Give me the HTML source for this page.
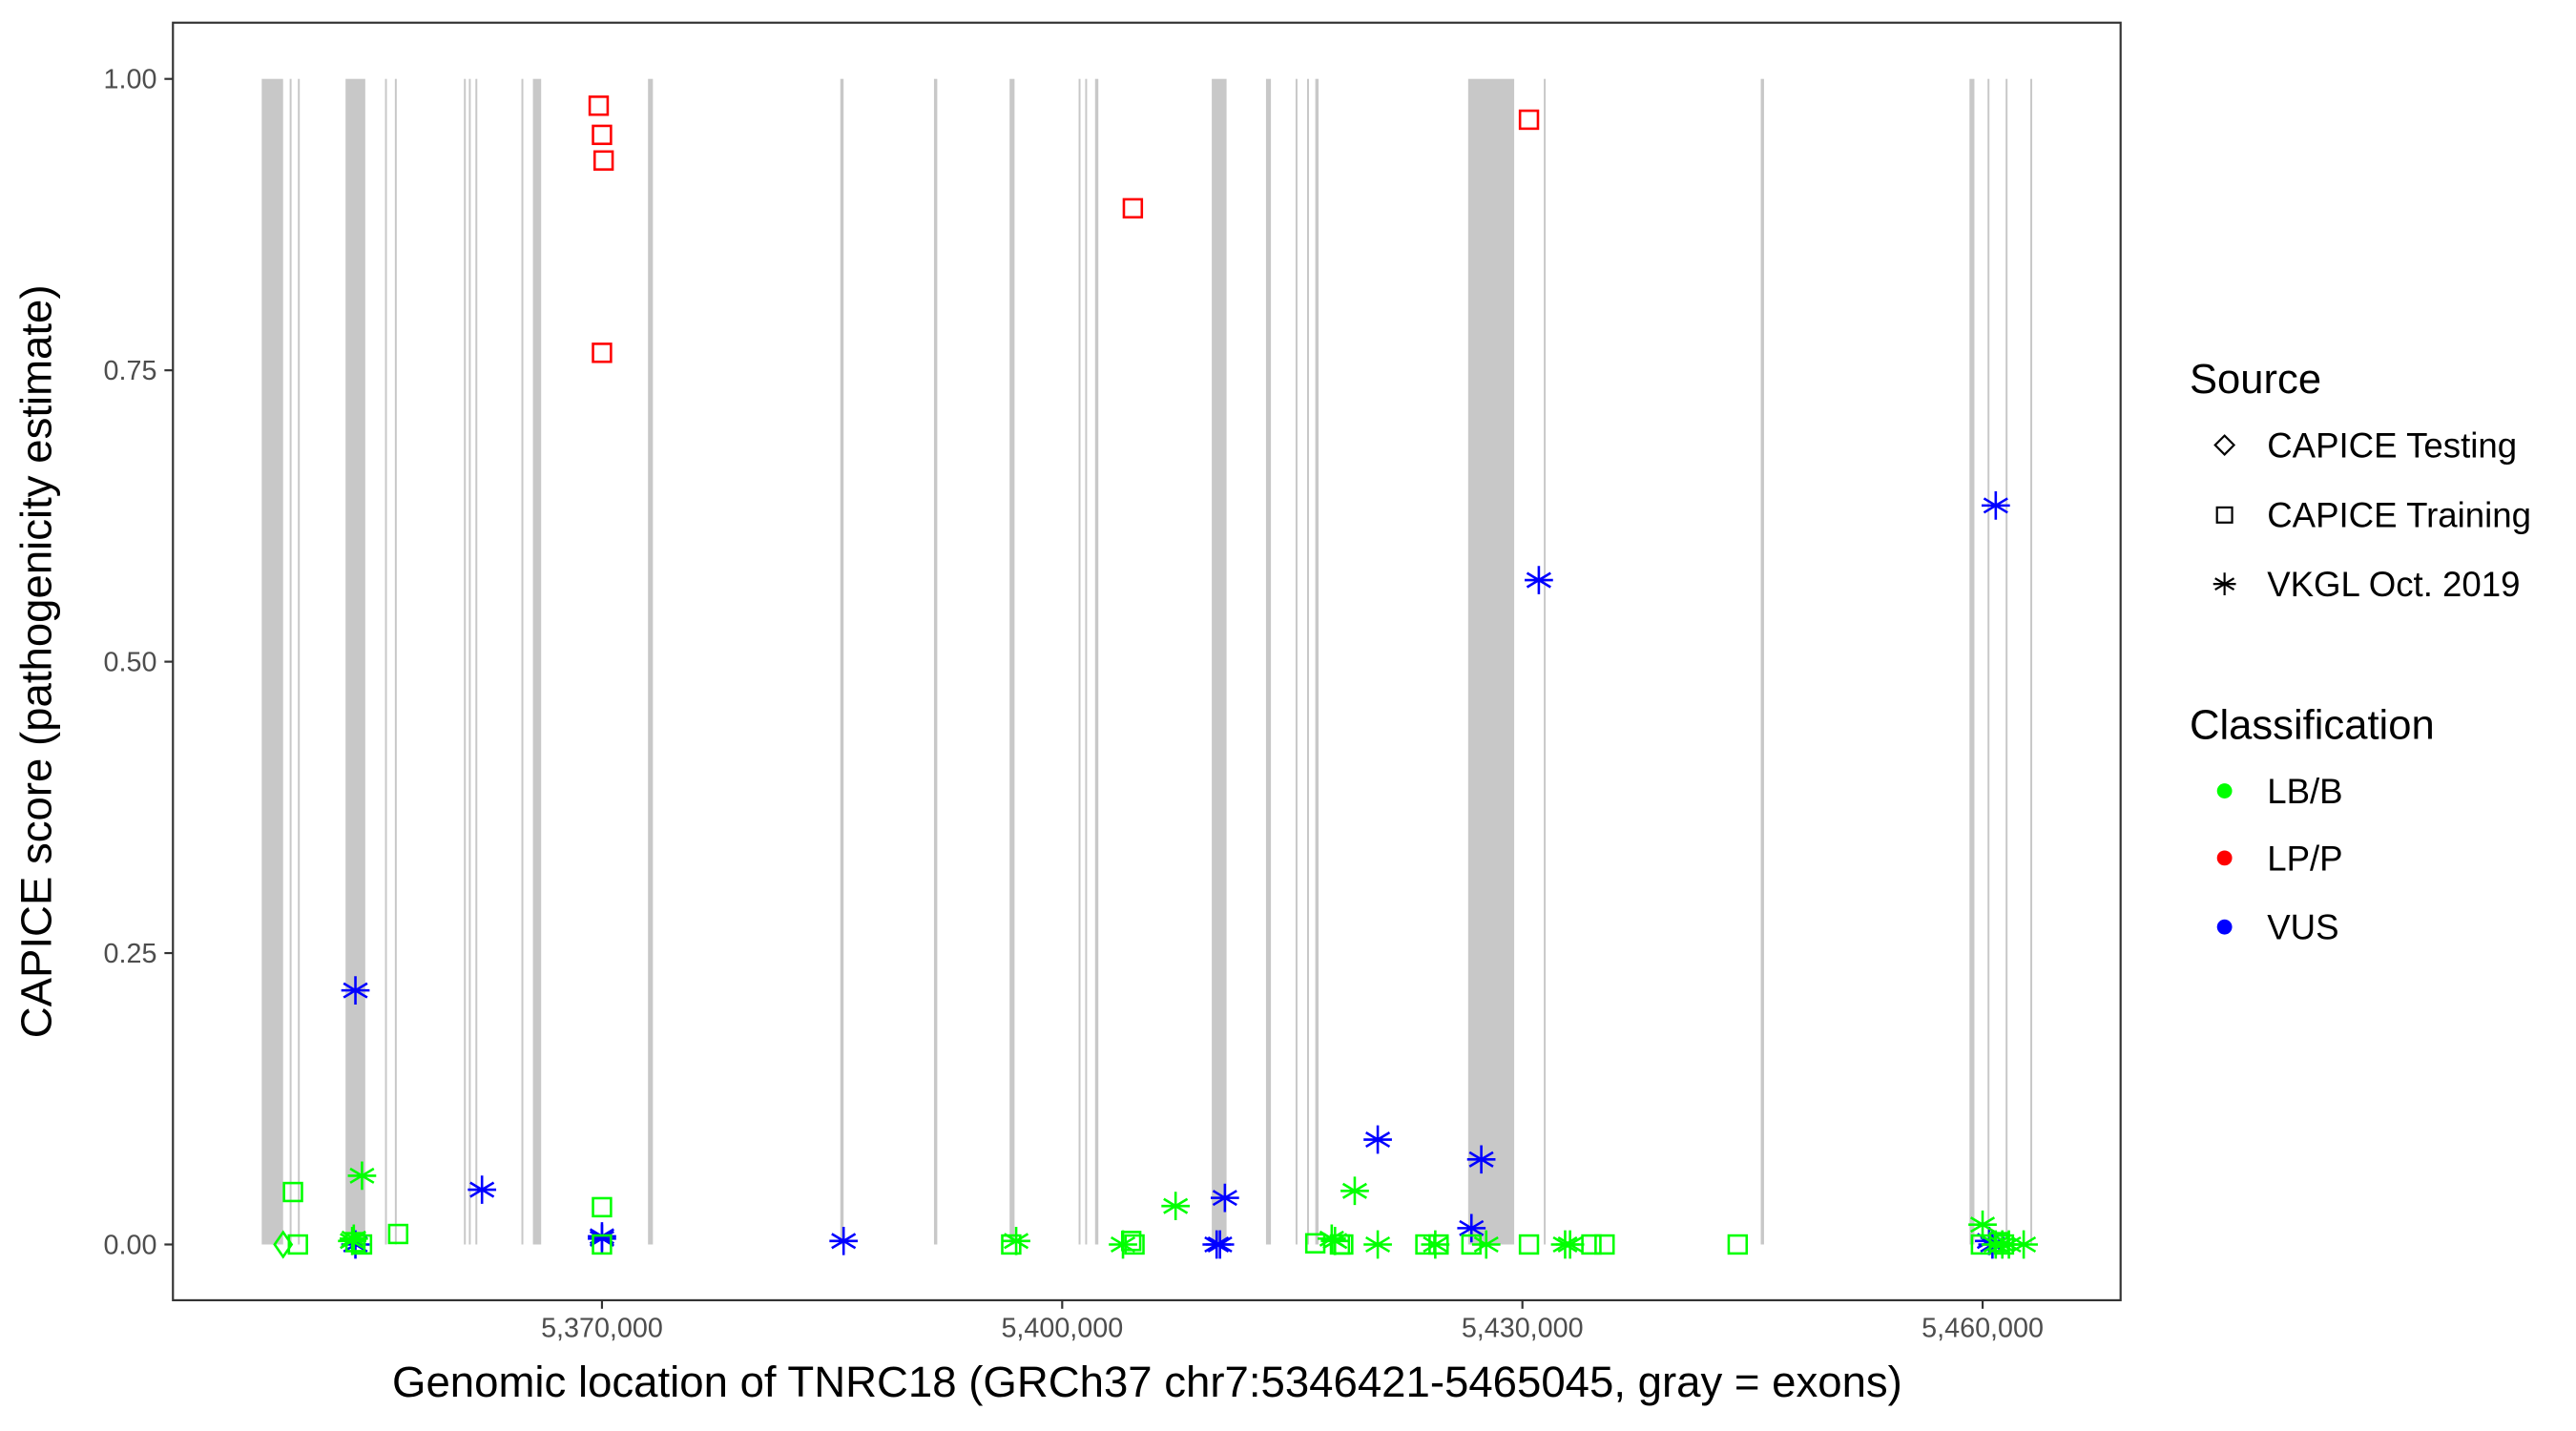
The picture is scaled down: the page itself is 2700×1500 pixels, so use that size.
<!DOCTYPE html>
<html><head><meta charset="utf-8"><style>
html,body{margin:0;padding:0;background:#fff;}
svg{display:block;font-family:"Liberation Sans",Arial,sans-serif;}
</style></head><body>
<svg id="chart" width="2700" height="1500" viewBox="0 0 2700 1500" xmlns="http://www.w3.org/2000/svg">
<rect x="0" y="0" width="2700" height="1500" fill="#fff"/>
<g transform="scale(0.9905)">
<g id="exons"></g>
<g id="points"></g>
<rect x="183" y="24" width="2061" height="1352" fill="none" stroke="#333" stroke-width="2.2"/>
<g id="yaxis"></g>
<g id="xaxis"></g>
<text x="1214" y="1478" font-size="46" text-anchor="middle" fill="#000">Genomic location of TNRC18 (GRCh37 chr7:5346421-5465045, gray = exons)</text>
<text transform="translate(54,700) rotate(-90)" font-size="46" text-anchor="middle" fill="#000">CAPICE score (pathogenicity estimate)</text>
<g>
<text x="2317" y="416" font-size="44" fill="#000">Source</text>
<g>
<path d="M2354 461 L2364 471 L2354 481 L2344 471 Z" fill="none" stroke="#000" stroke-width="2.2"/>
<text x="2399" y="484" font-size="37" fill="#000">CAPICE Testing</text></g>
<g>
<rect x="2346" y="537" width="16" height="16" fill="none" stroke="#000" stroke-width="2.2"/>
<text x="2399" y="558" font-size="37" fill="#000">CAPICE Training</text></g>
<g>
<path d="M2354 606 V630 M2344 612 L2364 624 M2344 624 L2364 612 M2342 618 H2366" stroke="#000" stroke-width="2.2"/>
<text x="2399" y="631" font-size="37" fill="#000">VKGL Oct. 2019</text></g>
<text x="2317" y="782" font-size="44" fill="#000">Classification</text>
<g><circle cx="2354" cy="837" r="8" fill="#00ff00"/><text x="2399" y="850" font-size="37" fill="#000">LB/B</text></g>
<g><circle cx="2354" cy="908" r="8" fill="#ff0000"/><text x="2399" y="921" font-size="37" fill="#000">LP/P</text></g>
<g><circle cx="2354" cy="981" r="8" fill="#0000ff"/><text x="2399" y="994" font-size="37" fill="#000">VUS</text></g>
</g>
</g>
</svg>
<script>
const exonStarts=[5347821,5349643,5350178,5353286,5355857,5356500,5361000,5361322,5361750,5364750,5365500,5373000,5385536,5391643,5396572,5401072,5401500,5402143,5409750,5413286,5415214,5415964,5416500,5426464,5431393,5445536,5459143,5460321,5461500,5463107];
const exonEnds=[5349214,5349750,5350285,5354571,5355964,5356607,5361107,5361429,5361857,5364857,5366036,5373321,5385750,5391857,5396893,5401179,5401607,5402357,5410714,5413607,5415321,5416071,5416714,5429464,5431500,5445750,5459464,5460428,5461607,5463214];
const pointPos=[5369786,5370000,5370107,5370000,5404606,5430427,
5353929,5362179,5370000,5370000,5353929,5385750,5410070,5410284,5410606,5420570,5426677,5427320,5431070,5460855,5460640,5460426,
5354358,5353715,5353822,5396999,5403963,5407392,5417570,5417784,5419070,5420570,5424320,5427641,5432784,5433106,5459997,5460855,5461712,5462676,5461283,
5349858,5350179,5353929,5354358,5356715,5370000,5370000,5396678,5404499,5404713,5416499,5418106,5418320,5423677,5424534,5426677,5430427,5434498,5435355,5444034,5459890,5461069,5461390,
5349215];
const pointScore=[0.977,0.952,0.930,0.765,0.889,0.965,
0.218,0.047,0.005,0.007,0.0,0.003,0.0,0.0,0.040,0.090,0.014,0.073,0.570,0.634,0.0,0.003,
0.059,0.003,0.005,0.003,0.0,0.033,0.005,0.003,0.046,0.0,0.0,0.0,0.0,0.0,0.017,0.0,0.0,0.0,0.0,
0.045,0.0,0.002,0.0,0.009,0.032,0.0,0.0,0.003,0.0,0.001,0.0,0.0,0.0,0.0,0.0,0.0,0.0,0.0,0.0,0.0,0.002,0.0,
0.0];
const pointClass=["LP/P","LP/P","LP/P","LP/P","LP/P","LP/P",
"VUS","VUS","VUS","VUS","VUS","VUS","VUS","VUS","VUS","VUS","VUS","VUS","VUS","VUS","VUS","VUS",
"LB/B","LB/B","LB/B","LB/B","LB/B","LB/B","LB/B","LB/B","LB/B","LB/B","LB/B","LB/B","LB/B","LB/B","LB/B","LB/B","LB/B","LB/B","LB/B",
"LB/B","LB/B","LB/B","LB/B","LB/B","LB/B","LB/B","LB/B","LB/B","LB/B","LB/B","LB/B","LB/B","LB/B","LB/B","LB/B","LB/B","LB/B","LB/B","LB/B","LB/B","LB/B","LB/B",
"LB/B"];
const pointSource=["Training","Training","Training","Training","Training","Training",
"VKGL","VKGL","VKGL","VKGL","VKGL","VKGL","VKGL","VKGL","VKGL","VKGL","VKGL","VKGL","VKGL","VKGL","VKGL","VKGL",
"VKGL","VKGL","VKGL","VKGL","VKGL","VKGL","VKGL","VKGL","VKGL","VKGL","VKGL","VKGL","VKGL","VKGL","VKGL","VKGL","VKGL","VKGL","VKGL",
"Training","Training","Training","Training","Training","Training","Training","Training","Training","Training","Training","Training","Training","Training","Training","Training","Training","Training","Training","Training","Training","Training","Training",
"Testing"];
const xTicks=[5370000,5400000,5430000,5460000];
const xTickLabels=["5,370,000","5,400,000","5,430,000","5,460,000"];
const yTicks=[0,0.25,0.5,0.75,1];
const yTickLabels=["0.00","0.25","0.50","0.75","1.00"];

const NS="http://www.w3.org/2000/svg";
function xs(v){return 637+(v-5370000)/30000*487;}
function ys(v){return 1317-v*1233.5;}
function mk(tag,attrs,parent){const e=document.createElementNS(NS,tag);for(const k in attrs)e.setAttribute(k,attrs[k]);parent.appendChild(e);return e;}
const colors={"LB/B":"#00ff00","LP/P":"#ff0000","VUS":"#0000ff"};

const gEx=document.getElementById('exons');
for(let i=0;i<exonStarts.length;i++){
  const x0=xs(exonStarts[i]),x1=xs(exonEnds[i]);
  const r=mk('rect',{x:x0,y:ys(1),width:Math.max(2,x1-x0),height:ys(0)-ys(1),fill:'#c8c8c8'},gEx);
  
  
}
const gP=document.getElementById('points');
for(let i=0;i<pointPos.length;i++){
  const cx=xs(pointPos[i]),cy=ys(pointScore[i]),c=colors[pointClass[i]];
  let el;
  if(pointSource[i]==="Training"){
    el=mk('rect',{x:cx-9.5,y:cy-9.5,width:19,height:19,fill:'none',stroke:c,'stroke-width':2.6},gP);
  }else if(pointSource[i]==="Testing"){
    el=mk('path',{d:`M${cx} ${cy-13} L${cx+9} ${cy} L${cx} ${cy+13} L${cx-9} ${cy} Z`,fill:'none',stroke:c,'stroke-width':2.6},gP);
  }else{
    el=mk('path',{d:`M${cx} ${cy-15} V${cy+15} M${cx-12.5} ${cy-7.5} L${cx+12.5} ${cy+7.5} M${cx-12.5} ${cy+7.5} L${cx+12.5} ${cy-7.5} M${cx-15} ${cy} H${cx+15}`,fill:'none',stroke:c,'stroke-width':2.6},gP);
  }
  
  
}
const gY=document.getElementById('yaxis');
for(let i=0;i<yTicks.length;i++){
  const y=ys(yTicks[i]);
  const t=mk('line',{x1:174,x2:183,y1:y,y2:y,stroke:'#333','stroke-width':2.2},gY);
  
  
  const l=mk('text',{x:166,y:y+10,'font-size':29,'text-anchor':'end',fill:'#4d4d4d'},gY);
  l.textContent=yTickLabels[i];
  
  
}
const gX=document.getElementById('xaxis');
for(let i=0;i<xTicks.length;i++){
  const x=xs(xTicks[i]);
  const t=mk('line',{x1:x,x2:x,y1:1376,y2:1385,stroke:'#333','stroke-width':2.2},gX);
  
  
  const l=mk('text',{x:x,y:1415,'font-size':29,'text-anchor':'middle',fill:'#4d4d4d'},gX);
  l.textContent=xTickLabels[i];
  
  
}
</script>
</body></html>
